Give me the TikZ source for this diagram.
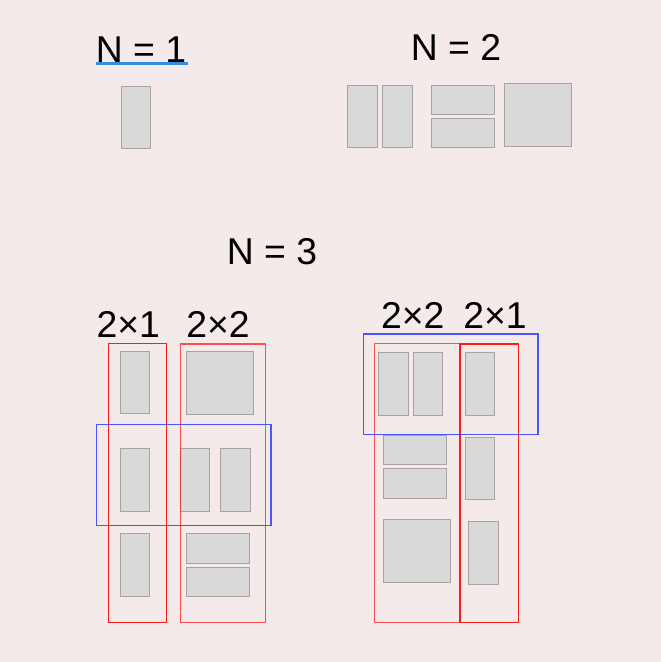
\documentclass[tikz,border=0pt]{standalone}
\usepackage{fontspec}
\setmainfont{Liberation Sans}
\definecolor{bg}{HTML}{F4EAEA}
\definecolor{tile}{HTML}{D9D9D9}
\definecolor{tileedge}{HTML}{A8A2A2}
\definecolor{ured}{HTML}{FF1A1A}
\definecolor{ublue}{HTML}{2E3BFF}
\definecolor{uline}{HTML}{2F8FE5}
\begin{document}
\begin{tikzpicture}[x=0.75pt,y=-0.75pt,
  tilebox/.style={fill=tile,draw=tileedge,line width=0.75pt},
  redbox/.style={draw=ured,line width=0.9pt},
  palered/.style={draw=ured,draw opacity=0.75,line width=0.9pt},
  bluebox/.style={draw=ublue,draw opacity=0.85,line width=0.9pt},
  lbl/.style={font=\fontsize{28}{30}\selectfont,anchor=base,inner sep=0pt}]
\fill[bg] (0,0) rectangle (661,662);
\useasboundingbox (0,0) rectangle (661,662);
% titles
\node[lbl] (n1) at (141,62.7) {N = 1};
\draw[uline,line width=1.6pt] (96,63.5) -- (188,63.5);
\node[lbl] (n2) at (456,60) {N = 2};
\node[lbl] (n3) at (272,264.3) {N = 3};
% N = 1
\draw[tilebox] (121.3,86) rectangle (150.7,148.3);
% N = 2
\draw[tilebox] (347.7,85) rectangle (377.7,147.7);
\draw[tilebox] (382.3,85) rectangle (412.3,147.7);
\draw[tilebox] (431.3,85) rectangle (494.3,114.3);
\draw[tilebox] (431.3,118.3) rectangle (494.3,147.7);
\draw[tilebox] (504.3,83.3) rectangle (571.7,146.7);
% N = 3 left group
\node[lbl] (l21) at (128.3,337.3) {2×1};
\node[lbl] (l22) at (218,337.3) {2×2};
\draw[tilebox] (120.3,351.3) rectangle (149.3,413.7);
\draw[tilebox] (120.3,448.3) rectangle (149.3,511.3);
\draw[tilebox] (120.3,533.3) rectangle (149.3,596.3);
\draw[tilebox] (186.3,351.3) rectangle (253.7,414);
\draw[tilebox] (180.7,448.3) rectangle (209.7,511.3);
\draw[tilebox] (220.3,448.3) rectangle (250.3,511.3);
\draw[tilebox] (186.3,533.3) rectangle (249.7,563);
\draw[tilebox] (186.3,567) rectangle (249.7,596.7);
\draw[redbox] (108.3,343.3) rectangle (166.7,622.3);
\draw[palered] (180.7,344) rectangle (265.3,622.7);
\draw[bluebox] (96.3,424.3) rectangle (271,525.3);
% N = 3 right group
\node[lbl] (r22) at (412.8,328.3) {2×2};
\node[lbl] (r21) at (495,328.3) {2×1};
\draw[tilebox] (378.3,352.7) rectangle (408,415.7);
\draw[tilebox] (413.3,352.7) rectangle (442.7,415.7);
\draw[tilebox] (465,352.7) rectangle (494.7,415.7);
\draw[tilebox] (383.3,435) rectangle (446.7,464.3);
\draw[tilebox] (383.3,468.7) rectangle (446.7,498.3);
\draw[tilebox] (383.3,519) rectangle (450.7,582.3);
\draw[tilebox] (465,437) rectangle (494.7,499.7);
\draw[tilebox] (468.3,521) rectangle (498.7,584);
\draw[palered] (374.7,343.3) rectangle (460,622.3);
\draw[redbox] (460,344) rectangle (518.3,622.7);
\draw[bluebox] (363.3,334) rectangle (538,434.3);
\end{tikzpicture}
\end{document}
